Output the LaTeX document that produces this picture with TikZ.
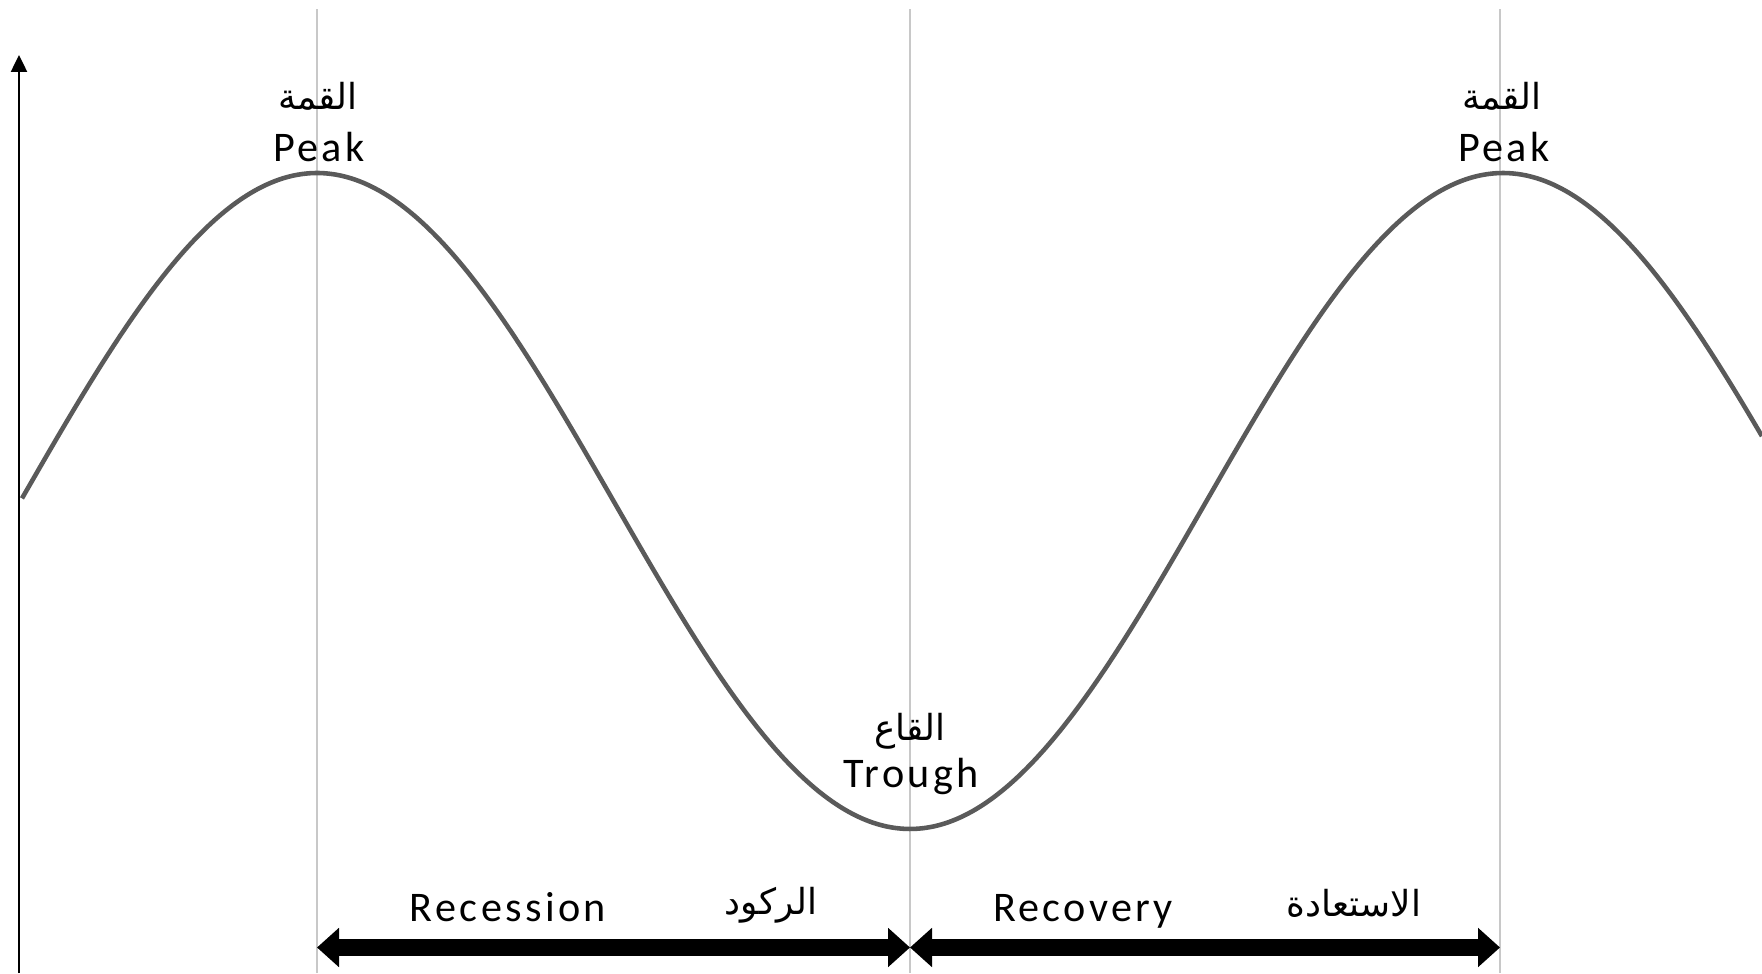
\documentclass[tikz,border=0pt]{standalone}
\usepackage{fontspec}
\usetikzlibrary{arrows.meta}
\TeXXeTstate=1
\newfontfamily\labelfont[LetterSpace=8]{Carlito}
\newfontfamily\arabicfont[Script=Arabic]{DejaVu Sans}
\definecolor{curvegray}{HTML}{5A5A5A}
\definecolor{guidegray}{HTML}{C8C8C8}

\begin{document}
\begin{tikzpicture}[>={Triangle[length=0.22cm, width=0.38cm]}, line width=1pt]
\tikzset{
  eng/.style={font=\labelfont\fontsize{12}{14}\selectfont, anchor=base, inner sep=0pt},
  arab/.style={font=\arabicfont\fontsize{10.2}{12}\selectfont, inner sep=0pt},
  guide/.style={guidegray, line width=0.45pt},
  phase/.style={line width=0.17cm, <->},
}
\useasboundingbox (0,0) rectangle (17.62,9.73);

% Turning points of the cycle
\coordinate (peakL) at (3.17,8.00);
\coordinate (trough) at (9.10,1.44);
\coordinate (peakR) at (15.00,8.00);

% Guide lines
\foreach \x in {3.17,9.10,15.00} {
  \draw[guide] (\x,0) -- (\x,9.64);
}

% Vertical axis
\coordinate (axisB) at (0.19,0);
\coordinate (axisT) at (0.19,9.18);
\draw[line width=0.7pt, -{Triangle[length=0.17cm, width=0.16cm]}] (axisB) -- (axisT);

% Cycle curve
\draw[curvegray, line width=1.3pt] plot[domain=0.22:17.62, samples=200, smooth]
  (\x,{4.72+3.28*cos((\x-3.17)/5.93*180)});

% Peak and trough labels
\node[arab] (peakLar) at (3.18,8.77) {\beginR القمة\endR};
\node[eng] (peakLen) at (3.19,8.11) {Peak};
\node[arab] (peakRar) at (15.02,8.77) {\beginR القمة\endR};
\node[eng] (peakRen) at (15.04,8.11) {Peak};
\node[arab] (troughar) at (9.10,2.42) {\beginR القاع\endR};
\node[eng] (troughen) at (9.11,1.86) {Trough};

% Phase arrows
\coordinate (recS) at (3.17,0.255);
\coordinate (recM) at (9.10,0.255);
\coordinate (recE) at (15.00,0.255);
\draw[phase] (recS) -- (recM);
\draw[phase] (recM) -- (recE);

% Phase labels
\node[eng] (recessen) at (5.08,0.52) {Recession};
\node[arab] (recessar) at (7.71,0.68) {\beginR الركود\endR};
\node[eng] (recoven) at (10.83,0.52) {Recovery};
\node[arab] (recovar) at (13.54,0.70) {\beginR الاستعادة\endR};

\end{tikzpicture}
\end{document}
